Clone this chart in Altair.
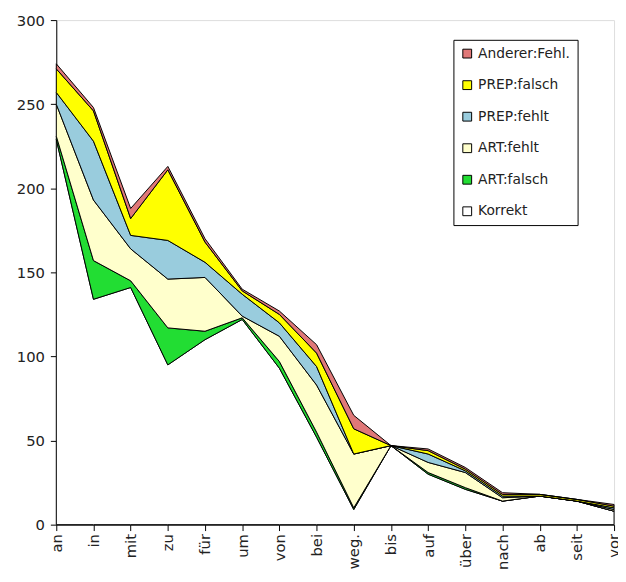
import altair as alt
import pandas as pd

categories = ["an", "in", "mit", "zu", "für", "um", "von", "bei", "weg.", "bis",
              "auf", "über", "nach", "ab", "seit", "vor"]

korrekt      = [229, 134, 141, 95, 110, 122, 93, 52, 9, 47, 30, 21, 14, 17, 14, 8]
art_falsch   = [2, 23, 4, 22, 5, 1, 4, 3, 1, 0, 1, 1, 0, 0, 0, 0]
art_fehlt    = [19, 36, 19, 29, 32, 1, 15, 28, 32, 0, 6, 9, 2, 0, 0, 1]
prep_fehlt   = [7, 35, 8, 23, 9, 13, 8, 11, 0, 0, 5, 1, 1, 0, 0, 1]
prep_falsch  = [14, 18, 10, 42, 12, 2, 5, 8, 15, 0, 2, 1, 1, 1, 1, 1]
anderer      = [3, 2, 6, 2, 2, 1, 2, 5, 8, 0, 1, 1, 1, 0, 0, 1]

series_names = ["Korrekt", "ART:falsch", "ART:fehlt", "PREP:fehlt", "PREP:falsch", "Anderer:Fehl."]
series_values = [korrekt, art_falsch, art_fehlt, prep_fehlt, prep_falsch, anderer]
series_colors = ["#FFFFFF", "#22DD33", "#FFFFCC", "#99CCDD", "#FFFF00", "#E07878"]

rows = []
for si, (name, vals) in enumerate(zip(series_names, series_values)):
    for ci, (cat, v) in enumerate(zip(categories, vals)):
        rows.append({"Präposition": cat, "Serie": name, "Wert": v, "ord": si})
df = pd.DataFrame(rows)

legend_order = list(reversed(series_names))
legend_colors = list(reversed(series_colors))

FONT = "DejaVu Sans"

chart = alt.Chart(df).mark_area(
    stroke="black", strokeWidth=1, opacity=1, interpolate="linear"
).encode(
    x=alt.X("Präposition:N", sort=categories, scale=alt.Scale(padding=0),
            axis=alt.Axis(title=None, labelAngle=-90, labelFontSize=15, tickSize=6,
                          labelPadding=3, tickColor="black", domainColor="black",
                          labelColor="#222", labelFont=FONT, grid=False)),
    y=alt.Y("Wert:Q", stack="zero",
            scale=alt.Scale(domain=[0, 300], nice=False),
            axis=alt.Axis(title=None, values=[0, 50, 100, 150, 200, 250, 300],
                          labelFontSize=15, tickSize=6, labelPadding=6,
                          tickColor="black", domainColor="black", labelColor="#222",
                          labelFont=FONT, grid=False)),
    color=alt.Color("Serie:N", scale=alt.Scale(domain=legend_order, range=legend_colors),
                    legend=alt.Legend(title=None, orient="none", legendX=403, legendY=20,
                                      symbolType="square", symbolSize=80,
                                      symbolStrokeColor="black", symbolStrokeWidth=1,
                                      labelFontSize=14, labelFont=FONT,
                                      labelColor="#222", rowPadding=18, labelOffset=4,
                                      strokeColor="black", fillColor="white",
                                      padding=7, symbolOpacity=1)),
    order=alt.Order("ord:Q", sort="ascending"),
).properties(
    width=566, height=512,
    padding={"left": 49, "top": 8, "right": 4, "bottom": 60},
    autosize=alt.AutoSizeParams(type="none"),
).configure_view(
    stroke="#888888", strokeWidth=1
).configure(background="white")

chart.save("out.html", embed_options={"renderer": "svg", "actions": False})
